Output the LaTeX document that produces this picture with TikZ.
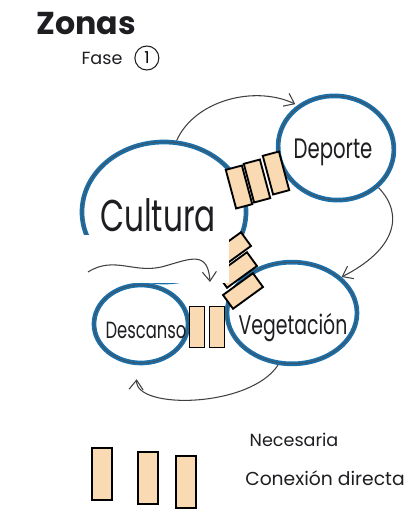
\documentclass[tikz,border=0pt]{standalone}
\usepackage{fontspec}
\setmainfont{Poppins}
\newfontfamily\handfont[FakeStretch=0.7]{Poppins}
\usetikzlibrary{arrows.meta,positioning,shapes.geometric}
\definecolor{ink}{RGB}{30,30,34}
\definecolor{marker}{RGB}{28,112,170}
\definecolor{peach}{RGB}{250,218,178}

\begin{document}
\begin{tikzpicture}[x=0.03cm,y=-0.03cm,
    zona/.style={ellipse,draw=marker,line width=4pt,inner sep=0pt,
      postaction={draw=ink!80,line width=0.6pt}},
    etiqueta/.style={text=ink,inner sep=0pt},
    enlace/.style={draw=black,line width=1.6pt,fill=peach,inner sep=0pt},
    flecha/.style={draw=ink!85,line width=0.9pt,
      -{Straight Barb[length=8pt,width=12pt]}}]
  \useasboundingbox (0,0) rectangle (414,510);

  % titulo
  \node[etiqueta,font=\bfseries\fontsize{27}{27}\selectfont] (titulo) at (86,24) {Zonas};
  \node[etiqueta,font=\fontsize{15}{15}\selectfont] (fase) at (102,58) {Fase};
  \node[circle,draw=ink,line width=0.9pt,minimum size=0.72cm,inner sep=0pt,
    font=\fontsize{14}{14}\selectfont,right=10pt of fase] (fasenum) {1};

  % zonas
  \node[zona,minimum width=4.92cm,minimum height=4.2cm] (cultura) at (164,212) {};
  \node[zona,minimum width=3.48cm,minimum height=3.12cm,rotate=-8] (deporte) at (336,148) {};
  \node[zona,minimum width=3.9cm,minimum height=3.05cm] (vegetacion) at (292,313) {};
  \node[zona,minimum width=2.82cm,minimum height=2.34cm] (descanso) at (141,324) {};

  % conexiones directas
  \foreach \i/\x/\y in {1/239/187,2/257/181,3/276/173}
    \node[enlace,minimum width=0.5cm,minimum height=1.2cm,rotate=15] (cd\i) at (\x,\y) {};
  \foreach \i/\x/\y in {1/231/250,2/237/270,3/243/291}
    \node[enlace,minimum width=1.11cm,minimum height=0.51cm,rotate=36] (cv\i) at (\x,\y) {};
  \foreach \i/\x/\y in {1/197/327,2/217/327}
    \node[enlace,minimum width=0.45cm,minimum height=1.23cm] (dv\i) at (\x,\y) {};

  % recorte blanco
  \fill[white] (75,235) rectangle (229,283);
  \coordinate (entrada) at (88,272);
  \coordinate (llegada) at (210,282);
  \draw[flecha] (entrada) .. controls (115,255) and (135,275) .. (165,266)
    .. controls (190,259) and (208,250) .. (llegada);

  % etiquetas
  \node[etiqueta,font=\handfont\fontsize{38}{38}\selectfont] (cultura-t) at (158,215) {Cultura};
  \node[etiqueta,font=\handfont\fontsize{24}{24}\selectfont] (deporte-t) at (333,152) {Deporte};
  \node[etiqueta,font=\handfont\fontsize{23}{23}\selectfont] (vegetacion-t) at (293,328) {Vegetación};
  \node[etiqueta,font=\handfont\fontsize{20}{20}\selectfont] (descanso-t) at (146,330) {Descanso};

  % recorrido
  \draw[flecha,shorten >=2pt] (cultura.80) .. controls (195,100) and (255,85) .. (deporte.140);
  \draw[flecha] (deporte.-35) .. controls (405,215) and (395,250) .. (vegetacion.36);
  \draw[flecha,shorten >=12pt] (vegetacion.-105) .. controls (250,408) and (135,410) .. (descanso.-95);

  % leyenda
  \node[etiqueta,font=\fontsize{15}{15}\selectfont] (necesaria) at (294,440) {Necesaria};
  \node[enlace,line width=1.8pt,minimum width=0.6cm,minimum height=1.56cm] (ley1) at (102,474) {};
  \node[enlace,line width=1.8pt,minimum width=0.6cm,minimum height=1.56cm] (ley2) at (148,478) {};
  \node[enlace,line width=1.8pt,minimum width=0.62cm,minimum height=1.56cm] (ley3) at (186,482) {};
  \node[etiqueta,font=\fontsize{16}{16}\selectfont] (directa) at (325,478) {Conexión directa};
\end{tikzpicture}
\end{document}
